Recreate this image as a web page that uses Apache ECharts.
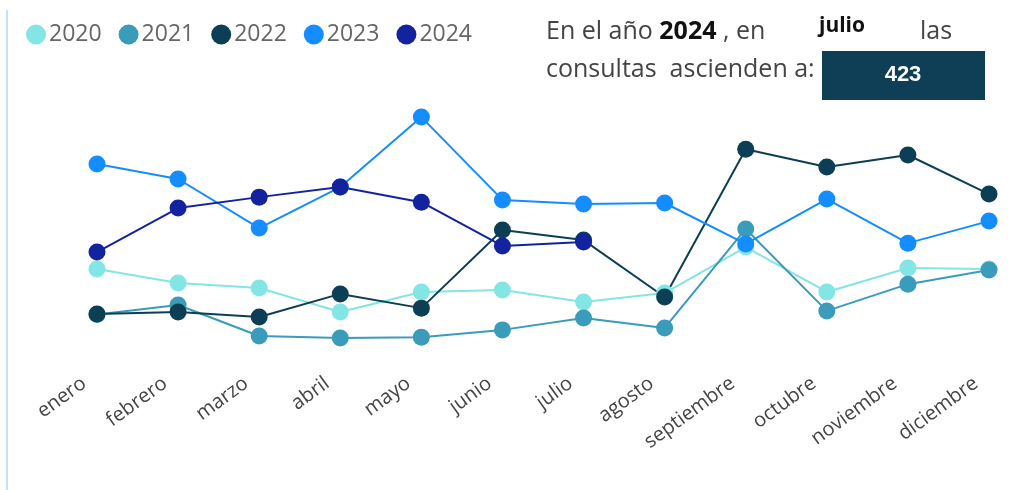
<!DOCTYPE html>
<html>
<head>
<meta charset="utf-8">
<script src="https://cdn.jsdelivr.net/npm/echarts@6/dist/echarts.min.js"></script>
<style>
  html, body { margin: 0; padding: 0; background: #fff; }
  #chart { width: 1021px; height: 490px; }
</style>
</head>
<body>
<div id="chart"></div>
<script>
// Monthly consultation counts per year
const months = ['enero', 'febrero', 'marzo', 'abril', 'mayo', 'junio', 'julio', 'agosto', 'septiembre', 'octubre', 'noviembre', 'diciembre'];
const years = ['2020', '2021', '2022', '2023', '2024'];
const values2020 = [326, 276, 258, 172, 244, 251, 208, 240, 405, 244, 330, 326];
const values2021 = [163, 197, 86, 79, 82, 108, 151, 115, 470, 176, 272, 323];
const values2022 = [165, 172, 154, 237, 186, 466, 430, 226, 756, 692, 735, 595];
const values2023 = [703, 649, 473, 620, 871, 574, 559, 563, 416, 577, 419, 498];
const values2024 = [387, 545, 584, 620, 566, 409, 423];
const yearColors = ['#84E5E5', '#3A9BBA', '#0C3E55', '#138DFF', '#13239F'];

// Highlighted figure shown in the header
const focusYear = '2024';
const focusMonth = 'julio';
const focusValue = values2024[months.indexOf(focusMonth)];

const seriesValues = [values2020, values2021, values2022, values2023, values2024];

const chart = echarts.init(document.getElementById('chart'));
const font = '"Open Sans", "Noto Sans", sans-serif';

chart.setOption({
  animation: false,
  color: yearColors,
  legend: {
    data: years,
    left: 21,
    top: 18,
    icon: 'circle',
    itemWidth: 20,
    itemHeight: 20,
    itemGap: 17,
    textStyle: { fontFamily: font, fontSize: 23, color: '#666', padding: [0, 0, 0, -2] }
  },
  grid: { left: 97, right: 32, top: 109, bottom: 130 },
  xAxis: {
    type: 'category',
    data: months,
    boundaryGap: false,
    axisLine: { show: false },
    axisTick: { show: false },
    axisLabel: {
      rotate: 36,
      margin: 12,
      interval: 0,
      fontFamily: font,
      fontSize: 20,
      color: '#444',
      padding: [0, 16, 0, 0]
    }
  },
  yAxis: {
    type: 'value',
    min: 0,
    max: 900,
    show: false,
    splitLine: { show: false }
  },
  series: years.map((y, i) => ({
    name: y,
    type: 'line',
    data: seriesValues[i],
    symbol: 'circle',
    symbolSize: 17,
    lineStyle: { width: 2 },
    itemStyle: { color: yearColors[i] }
  })),
  graphic: [
    { type: 'rect', shape: { x: 6, y: 10, width: 2, height: 480 }, style: { fill: '#C6E0FB' } },
    {
      type: 'text', left: 546, top: 19,
      style: {
        text: '{n|En el año }{b|' + focusYear + '}{n| , en}',
        rich: {
          n: { fontFamily: font, fontSize: 25, fill: '#444' },
          b: { fontFamily: font, fontSize: 25, fontWeight: 'bold', fill: '#111' }
        }
      }
    },
    {
      type: 'text', left: 819, top: 16,
      style: { text: focusMonth, fontFamily: font, fontSize: 21, fontWeight: 'bold', fill: '#111' }
    },
    {
      type: 'text', left: 920, top: 19,
      style: { text: 'las', fontFamily: font, fontSize: 25, fill: '#444' }
    },
    {
      type: 'text', left: 546, top: 57,
      style: { text: 'consultas  ascienden a:', fontFamily: font, fontSize: 25, fill: '#444' }
    },
    { type: 'rect', shape: { x: 822, y: 51, width: 163, height: 49 }, style: { fill: '#0E3F56' } },
    {
      type: 'text', x: 903, y: 75,
      style: {
        text: String(focusValue), fontFamily: '"Liberation Sans", Arial, sans-serif', fontSize: 22, fontWeight: 'bold',
        fill: '#fff', align: 'center', verticalAlign: 'middle'
      }
    }
  ]
});
</script>
</body>
</html>
